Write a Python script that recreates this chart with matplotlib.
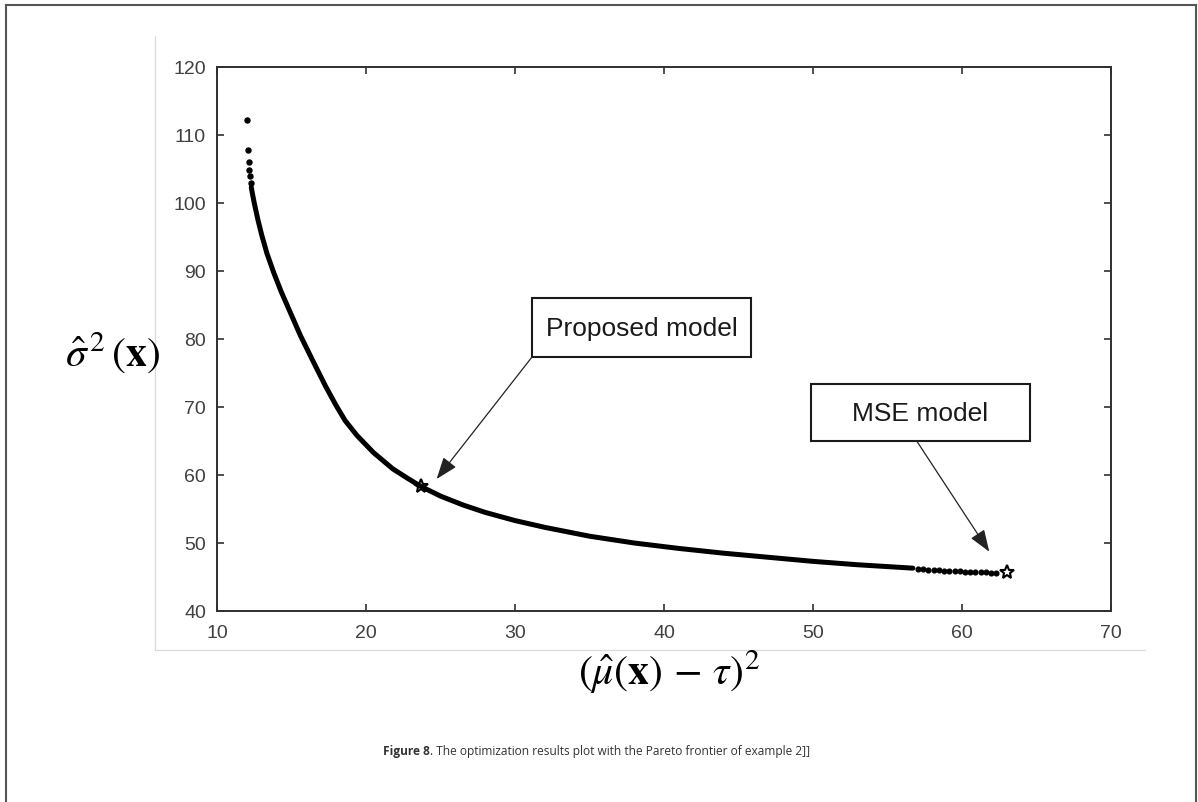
import matplotlib
matplotlib.use("Agg")
import matplotlib.pyplot as plt
from matplotlib.lines import Line2D
from matplotlib.patches import Rectangle

plt.rcParams['mathtext.fontset'] = 'stix'

# ---- data ----
# sparse dots at the top of the frontier
top_x = [12.01, 12.08, 12.13, 12.17, 12.21, 12.26]
top_y = [112.2, 107.8, 106.1, 104.9, 103.9, 103.0]
# dense part of the Pareto frontier
front_x = [12.30, 12.35, 12.5, 12.75, 13.0, 13.35, 13.8, 14.3, 14.9, 15.6, 16.5,
           17.3, 18.0, 18.6, 19.4, 20.5, 21.8, 22.8, 23.7, 25.0, 26.5, 28.0, 30.0,
           32.0, 35.0, 38.0, 41.0, 44.0, 47.0, 50.0, 53.0, 56.7]
front_y = [102.3, 101.7, 100.0, 97.5, 95.3, 92.6, 89.8, 87.0, 84.0, 80.5, 76.5,
           73.0, 70.2, 68.0, 65.8, 63.3, 60.9, 59.5, 58.3, 56.9, 55.6, 54.5, 53.3,
           52.3, 51.0, 50.0, 49.2, 48.5, 47.9, 47.3, 46.8, 46.3]
# sparse dots at the right end of the frontier
end_x = [57.05, 57.4, 57.75, 58.1, 58.45, 58.8, 59.15, 59.5, 59.85, 60.2, 60.55,
         60.9, 61.25, 61.6, 61.95, 62.3]
end_y = [46.22, 46.16, 46.1, 46.05, 46.0, 45.95, 45.9, 45.87, 45.83, 45.8, 45.77,
         45.73, 45.7, 45.67, 45.64, 45.61]
# highlighted solutions
proposed = (23.7, 58.4)
mse = (63.0, 45.7)

x_ticks = [10, 20, 30, 40, 50, 60, 70]
y_ticks = [40, 50, 60, 70, 80, 90, 100, 110, 120]

W, H = 1198, 803
fig = plt.figure(figsize=(W / 100, H / 100), dpi=100)

def fx(px):
    return px / W

def fy(py):
    return 1 - py / H

# outer frame and the light image edges
fig.add_artist(Line2D([fx(6), fx(6)], [fy(6), fy(810)], color='#555555', lw=1.5))
fig.add_artist(Line2D([fx(6), fx(1196)], [fy(6), fy(6)], color='#555555', lw=1.5))
fig.add_artist(Line2D([fx(1196), fx(1196)], [fy(6), fy(810)], color='#555555', lw=1.5))
fig.add_artist(Line2D([fx(155), fx(155)], [fy(37), fy(651)], color='#dadada', lw=0.9))
fig.add_artist(Line2D([fx(155), fx(1145)], [fy(651), fy(651)], color='#dadada', lw=0.9))

ax = fig.add_axes([fx(217), fy(612), (1111 - 217) / W, (612 - 68) / H])
ax.set_xlim(10, 70)
ax.set_ylim(40, 120)
ax.set_xticks(x_ticks)
ax.set_yticks(y_ticks)
for s in ax.spines.values():
    s.set_color('#303030')
    s.set_linewidth(1.4)
ax.tick_params(direction='in', length=5, width=1.2, color='#303030',
               top=True, right=True, labelsize=14, labelcolor='#404040')
ax.tick_params(axis='x', pad=9)
ax.tick_params(axis='y', pad=8)
for lab in ax.get_xticklabels() + ax.get_yticklabels():
    lab.set_fontfamily('Liberation Sans')

ax.plot(front_x, front_y, color='black', lw=3.6, solid_capstyle='round',
        solid_joinstyle='round')
ax.plot(top_x, top_y, 'o', color='black', ms=3.6)
ax.plot(end_x, end_y, 'o', color='black', ms=3.4)
ax.plot(*proposed, marker='*', ms=10, mfc='none', mec='black', mew=1.5)
ax.plot(*mse, marker='*', ms=10, mfc='none', mec='black', mew=1.5)

# annotation boxes
boxes = [("Proposed model", (31.14, 77.35), (45.84, 86.03), (31.14, 77.35), (24.74, 59.41)),
         ("MSE model", (49.87, 65.0), (64.56, 73.38), (56.96, 65.0), (61.83, 48.72))]
for txt, (x0, y0), (x1, y1), start, tip in boxes:
    ax.add_patch(Rectangle((x0, y0), x1 - x0, y1 - y0, fill=True, fc='white',
                           ec='#1a1a1a', lw=1.5, zorder=4))
    ax.text((x0 + x1) / 2, (y0 + y1) / 2, txt, ha='center', va='center',
            fontsize=19, family='Liberation Sans', color='#1a1a1a', zorder=5)
    ax.annotate('', xy=tip, xytext=start,
                arrowprops=dict(arrowstyle='-|>,head_length=0.9,head_width=0.33',
                                mutation_scale=15, lw=0.9, color='#222222',
                                shrinkA=0, shrinkB=0), zorder=5)

# axis labels
fig.text(fx(112), fy(353), r'$\hat{\sigma}^{\,2}\,(\mathbf{x})$', ha='center', va='center',
         fontsize=30)
fig.text(fx(669), fy(672), r'$(\hat{\mu}(\mathbf{x})\,-\,\tau)^2$', ha='center',
         va='center', fontsize=30)

# caption
t1 = fig.text(fx(383), fy(752), 'Figure 8', ha='left', va='center', fontsize=8.6,
              family='Open Sans', weight='bold', color='#333333')
ax.annotate('. The optimization results plot with the Pareto frontier of example 2]]',
            xy=(1, 0.5), xycoords=t1, ha='left', va='center', fontsize=8.6,
            family='Open Sans', color='#333333', annotation_clip=False)

fig.savefig('out.png', dpi=100)
